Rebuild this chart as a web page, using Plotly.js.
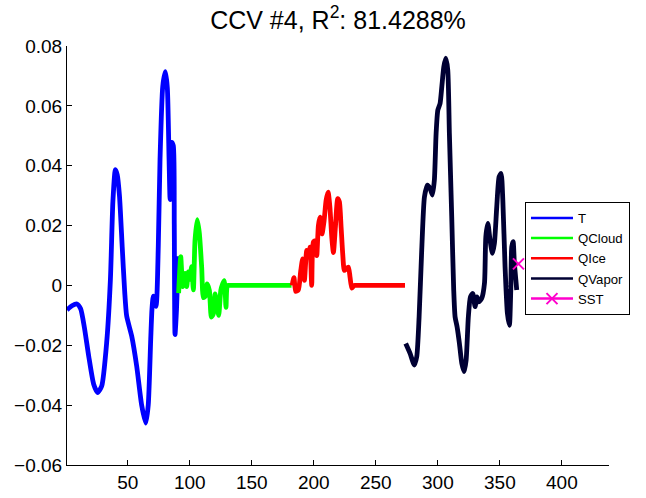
<!DOCTYPE html>
<html>
<head>
<meta charset="utf-8">
<script src="https://cdn.plot.ly/plotly-3.0.1.min.js"></script>
<style>html,body{margin:0;padding:0;background:#fff;}#chart{width:646px;height:498px;}</style>
</head>
<body>
<div id="chart"></div>
<script>
// ---- data ----
const T_x = [1, 5, 9, 12, 15, 18.5, 22.5, 25.7, 29, 33, 36, 38, 40, 41.5, 43.3, 45.5, 47.5, 49.1, 53.2, 57.2, 61.2, 64.5, 66.5, 68.5, 69.5, 70.6, 72.8, 74.6, 76, 78.2, 80.3, 81.9, 83.3, 84.1, 85.4, 86.7, 87.5, 88.1, 89.3, 90.8];
const T_y = [-0.0082, -0.0068, -0.0062, -0.0078, -0.014, -0.0236, -0.033, -0.0358, -0.0336, -0.019, 0.002, 0.028, 0.0387, 0.037, 0.030, 0.013, -0.002, -0.0102, -0.017, -0.027, -0.040, -0.046, -0.040, -0.018, -0.008, -0.0036, -0.007, 0.013, 0.042, 0.0665, 0.0714, 0.066, 0.042, 0.0287, 0.0478, 0.0467, 0.020, -0.0164, -0.008, 0.0098];

const QCloud_x = [91, 92.7, 94.3, 96.2, 97.5, 98.8, 100, 101.5, 102.9, 104.2, 106, 107.7, 109.6, 111, 112.5, 114, 115.8, 117.4, 119, 120.4, 121.7, 123.3, 125, 126.5, 127.8, 129.2, 130.3, 132, 135, 182];
const QCloud_y = [-0.0026, 0.0096, -0.0004, 0.004, -0.0004, 0.0045, 0.002, 0.0063, -0.0015, 0.015, 0.022, 0.0175, 0.006, -0.0041, -0.0036, 0.0005, -0.0017, -0.0106, -0.0095, -0.0028, -0.006, -0.010, -0.0017, 0.0005, 0.0016, -0.0073, 0, 0, 0, 0];

const QIce_x = [182.5, 184, 185.4, 187.5, 189.5, 191, 192.4, 194.3, 195.8, 197, 198.3, 199.6, 201.3, 202.4, 203.7, 205, 206.6, 208.3, 209.9, 211.5, 213, 214.5, 215.8, 217.4, 219.3, 220.6, 222, 223.3, 224.6, 226, 227.9, 229.2, 230.6, 232.5, 234, 237, 273.5];
const QIce_y = [0, 0.0026, -0.002, -0.0015, 0.005, 0.0089, 0.0017, 0.0117, 0.0095, 0.0128, 0, 0.0145, 0.015, 0.010, 0.020, 0.0228, 0.0172, 0.0217, 0.0284, 0.0312, 0.026, 0.016, 0.011, 0.0195, 0.029, 0.028, 0.0195, 0.0106, 0.005, 0.0056, 0.0061, 0.0028, -0.0009, 0, 0, 0, 0];

const QVapor_x = [274.1, 277.6, 281, 283, 284.9, 287, 289.2, 291.6, 293.7, 295.6, 297.2, 298.6, 300, 301.8, 303.2, 304.8, 306.4, 308, 309.3, 311.2, 312.8, 313.9, 315.5, 317.4, 319.3, 321.2, 322.8, 324.6, 326.3, 328.2, 330, 331.6, 333, 335.4, 337.6, 338.7, 340.3, 342.1, 344, 345.6, 347.5, 349.4, 351, 352.4, 354.2, 356.1, 357.7, 358.8, 359.6, 360.7, 361.7, 362.9, 363.6];
const QVapor_y = [-0.0194, -0.0227, -0.0266, -0.0238, -0.0105, 0.0118, 0.0296, 0.0335, 0.0324, 0.0302, 0.0352, 0.0508, 0.0586, 0.0608, 0.0664, 0.073, 0.0759, 0.072, 0.0508, 0.0229, -0.0016, -0.0105, -0.0138, -0.0194, -0.026, -0.0288, -0.025, -0.0105, -0.0038, -0.0027, -0.0071, -0.0038, -0.0055, -0.0043, 0.0007, 0.0163, 0.0207, 0.0151, 0.0107, 0.014, 0.0263, 0.0363, 0.0374, 0.0285, 0.0062, -0.0094, -0.0133, -0.0016, 0.0129, 0.0146, 0.0074, 0.0018, -0.0015];

const SST_x = [365];
const SST_y = [0.0072];

const seriesNames = ['T', 'QCloud', 'QIce', 'QVapor', 'SST'];
const xTickVals = [50, 100, 150, 200, 250, 300, 350, 400];
const yTickVals = [-0.06, -0.04, -0.02, 0, 0.02, 0.04, 0.06, 0.08];
const yTickText = ['\u22120.06', '\u22120.04', '\u22120.02', '0', '0.02', '0.04', '0.06', '0.08'];
const chartTitle = 'CCV #4, R<sup>2</sup>: 81.4288%';

// ---- styling ----
const colors = ['#0000ff', '#00ff00', '#ff0000', '#000033', '#ff00cc'];
const FONT = '"Liberation Sans", Arial, Helvetica, sans-serif';
const sstMarker = {symbol: 'x-thin', size: 11, color: colors[4], line: {color: colors[4], width: 2}};

const lineData = [[T_x, T_y], [QCloud_x, QCloud_y], [QIce_x, QIce_y], [QVapor_x, QVapor_y]];
const traces = [];
lineData.forEach((d, i) => {
  traces.push({x: d[0], y: d[1], type: 'scatter', mode: 'lines', name: seriesNames[i],
    line: {color: colors[i], width: 4.8, shape: 'spline', smoothing: 0.6}, showlegend: false, hoverinfo: 'skip'});
});
traces.push({x: SST_x, y: SST_y, type: 'scatter', mode: 'markers', name: 'SST', showlegend: false,
  marker: sstMarker});
// legend-only entries (thin lines like the reference legend)
seriesNames.forEach((n, i) => {
  const tr = {x: [null], y: [null], type: 'scatter', mode: 'lines', name: n,
    line: {color: colors[i], width: 2.5}, showlegend: true};
  if (i === 4) { tr.mode = 'lines+markers'; tr.marker = sstMarker; }
  traces.push(tr);
});

const layout = {
  width: 646, height: 498,
  margin: {l: 67, r: 37, t: 46, b: 33},
  paper_bgcolor: '#ffffff', plot_bgcolor: '#ffffff',
  font: {family: FONT, color: '#000', size: 19},
  title: {text: chartTitle, font: {family: FONT, size: 25, color: '#000'}, x: 0.5, xref: 'paper', y: 0.96, yref: 'container', yanchor: 'middle'},
  xaxis: {range: [1, 438], tickvals: xTickVals, ticks: 'inside', ticklen: 5, tickcolor: '#000', showline: true,
    linecolor: '#000', linewidth: 1, showgrid: false, zeroline: false, tickfont: {size: 19, family: FONT}},
  yaxis: {range: [-0.06, 0.08], tickvals: yTickVals, ticktext: yTickText, ticks: 'inside', ticklen: 5, tickcolor: '#000',
    showline: true, linecolor: '#000', linewidth: 1, showgrid: false, zeroline: false, tickfont: {size: 19, family: FONT}},
  legend: {x: 0.845, y: 0.628, xanchor: 'left', yanchor: 'top', bordercolor: '#000', borderwidth: 1, bgcolor: '#fff',
    font: {size: 13.2, family: FONT}, itemwidth: 42},
  showlegend: true
};

Plotly.newPlot('chart', traces, layout, {displayModeBar: false, staticPlot: true});
</script>
</body>
</html>
